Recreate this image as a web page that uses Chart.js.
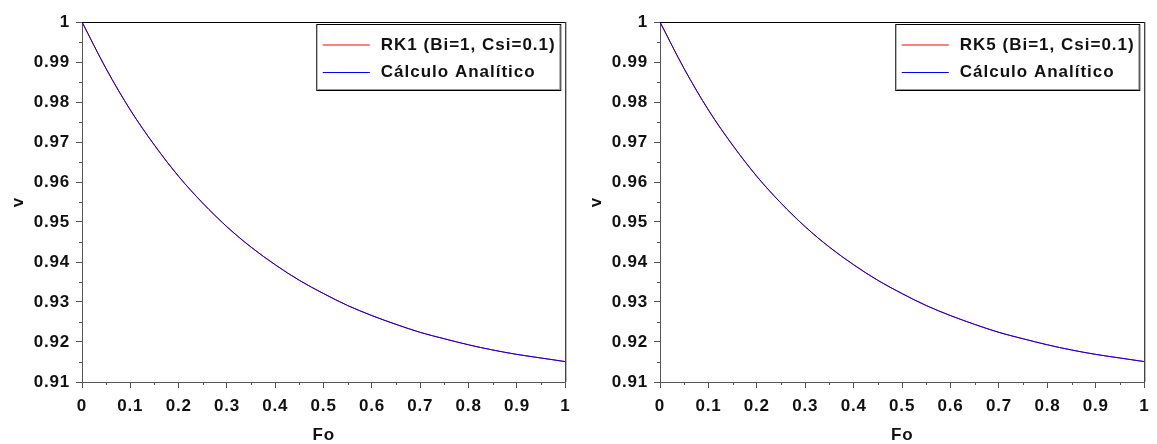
<!DOCTYPE html>
<html>
<head>
<meta charset="utf-8">
<script src="https://cdn.jsdelivr.net/npm/chart.js@4.4.0/dist/chart.umd.min.js"></script>
<style>
  html, body { margin: 0; padding: 0; background: #fff; }
  #wrap { display: flex; width: 1157px; height: 444px; }
  canvas { display: block; }
</style>
</head>
<body>
<div id="wrap">
  <canvas id="c1" width="578" height="444"></canvas>
  <canvas id="c2" width="579" height="444"></canvas>
</div>
<script>
// ---- data ----
const fo = [0, 0.05, 0.1, 0.15, 0.2, 0.25, 0.3, 0.35, 0.4, 0.45, 0.5, 0.55, 0.6, 0.65, 0.7, 0.75, 0.8, 0.85, 0.9, 0.95, 1.0];
const analytic = [1.0000, 0.9883, 0.9780, 0.9692, 0.9614, 0.9547, 0.9488, 0.9437, 0.9393, 0.9354, 0.9321, 0.9291, 0.9266, 0.9244, 0.9224, 0.9208, 0.9193, 0.9180, 0.9169, 0.9160, 0.9151];
const rk1 = [1.0000, 0.9883, 0.9780, 0.9692, 0.9614, 0.9547, 0.9488, 0.9437, 0.9393, 0.9354, 0.9321, 0.9291, 0.9266, 0.9244, 0.9224, 0.9208, 0.9193, 0.9180, 0.9169, 0.9160, 0.9151];
const rk5 = [1.0000, 0.9883, 0.9780, 0.9692, 0.9614, 0.9547, 0.9488, 0.9437, 0.9393, 0.9354, 0.9321, 0.9291, 0.9266, 0.9244, 0.9224, 0.9208, 0.9193, 0.9180, 0.9169, 0.9160, 0.9151];
const labelRK1 = 'RK1 (Bi=1, Csi=0.1)';
const labelRK5 = 'RK5 (Bi=1, Csi=0.1)';
const labelAnalytic = 'Cálculo Analítico';
const xTitle = 'Fo';
const yTitle = 'v';
const xRange = [0, 1, 0.1];
const yRange = [0.91, 1, 0.01];
const colors = ['#ff0000', '#0000ff'];

const FONT = "'Liberation Sans', Arial, sans-serif";
Chart.defaults.font.family = FONT;
Chart.defaults.font.size = 17;
Chart.defaults.font.weight = 'bold';
Chart.defaults.color = '#111';

const fmt = v => String(Number(Number(v).toFixed(2)));

const framePlugin = {
  id: 'frame',
  beforeDraw(chart) { chart.ctx.letterSpacing = '0.8px'; },
  afterDatasetsDraw(chart) {
    const ctx = chart.ctx, a = chart.chartArea;
    const xs = chart.scales.x, ys = chart.scales.y;
    ctx.save();
    ctx.strokeStyle = '#000';
    ctx.lineWidth = 1;
    ctx.beginPath();
    ctx.moveTo(a.left, a.top + 0.5); ctx.lineTo(a.right, a.top + 0.5);
    ctx.moveTo(a.right + 0.5, a.top); ctx.lineTo(a.right + 0.5, a.bottom);
    ctx.stroke();
    ctx.strokeStyle = '#555';
    ctx.beginPath();
    for (let v = xRange[0] + xRange[2] / 2; v < xRange[1]; v += xRange[2]) {
      const px = Math.round(xs.getPixelForValue(v)) + 0.5;
      ctx.moveTo(px, a.bottom); ctx.lineTo(px, a.bottom + 3);
    }
    for (let v = yRange[0] + yRange[2] / 2; v < yRange[1]; v += yRange[2]) {
      const py = Math.round(ys.getPixelForValue(v)) + 0.5;
      ctx.moveTo(a.left, py); ctx.lineTo(a.left - 3, py);
    }
    ctx.stroke();
    ctx.restore();
  },
  afterDraw(chart) {
    const ctx = chart.ctx, a = chart.chartArea;
    const ds = chart.data.datasets;
    ctx.save();
    const bx = a.right - 248.5, by = a.top + 2.5, bw = 244, bh = 66;
    ctx.fillStyle = '#fff';
    ctx.fillRect(bx, by, bw, bh);
    ctx.strokeStyle = '#000';
    ctx.lineWidth = 1;
    ctx.strokeRect(bx, by, bw, bh);
    ctx.strokeStyle = '#999';
    ctx.beginPath();
    ctx.moveTo(bx + bw - 1, by + 1); ctx.lineTo(bx + bw - 1, by + bh - 1); ctx.lineTo(bx + 1, by + bh - 1);
    ctx.stroke();
    ctx.font = "bold 17px " + FONT;
    ctx.letterSpacing = '1px';
    ctx.textBaseline = 'middle';
    ctx.textAlign = 'left';
    ds.forEach((d, i) => {
      const yc = by + 20 + i * 27.5;
      const y = i === 0 ? Math.round(yc) : Math.round(yc) + 0.5;
      ctx.strokeStyle = colors[i];
      ctx.lineWidth = i === 0 ? 1.2 : 1;
      ctx.beginPath();
      ctx.moveTo(bx + 6, y); ctx.lineTo(bx + 53, y);
      ctx.stroke();
      ctx.fillStyle = '#111';
      ctx.fillText(d.label, bx + 64, Math.round(yc) + 0.5);
    });
    ctx.restore();
  }
};

function makeChart(id, rkLabel, rkValues) {
  return new Chart(document.getElementById(id), {
    type: 'line',
    data: {
      datasets: [
        { label: rkLabel, order: 1, data: fo.map((x, i) => ({ x, y: rkValues[i] })), borderColor: colors[0], borderWidth: 1, pointRadius: 0, cubicInterpolationMode: 'monotone' },
        { label: labelAnalytic, order: 0, data: fo.map((x, i) => ({ x, y: analytic[i] })), borderColor: colors[1], borderWidth: 1, pointRadius: 0, cubicInterpolationMode: 'monotone' }
      ]
    },
    options: {
      responsive: false,
      animation: false,
      events: [],
      layout: { padding: { left: 0, right: 9, top: 22, bottom: 0 } },
      plugins: { legend: { display: false }, tooltip: { enabled: false } },
      scales: {
        x: {
          type: 'linear', min: xRange[0], max: xRange[1],
          afterFit(s) { s.height = 62; },
          grid: { display: true, drawOnChartArea: false, drawTicks: true, tickLength: 6, color: '#555' },
          border: { display: true, color: '#555', width: 1 },
          ticks: { stepSize: xRange[2], padding: 8, color: '#111', maxRotation: 0, autoSkip: false, callback: v => fmt(v) },
          title: { display: true, text: xTitle, color: '#111', font: { size: 17, weight: 'bold', lineHeight: 1 }, padding: { top: 0, bottom: 0 } }
        },
        y: {
          type: 'linear', min: yRange[0], max: yRange[1],
          afterFit(s) { s.width = 82; },
          grid: { display: true, drawOnChartArea: false, drawTicks: true, tickLength: 6, color: '#555' },
          border: { display: true, color: '#555', width: 1 },
          ticks: { stepSize: yRange[2], padding: 6, color: '#111', autoSkip: false, callback: v => fmt(v) },
          title: { display: true, text: yTitle, color: '#111', font: { size: 17, weight: 'bold', lineHeight: 1 }, padding: { top: 10, bottom: 0 } }
        }
      }
    },
    plugins: [framePlugin]
  });
}

makeChart('c1', labelRK1, rk1);
makeChart('c2', labelRK5, rk5);
</script>
</body>
</html>
